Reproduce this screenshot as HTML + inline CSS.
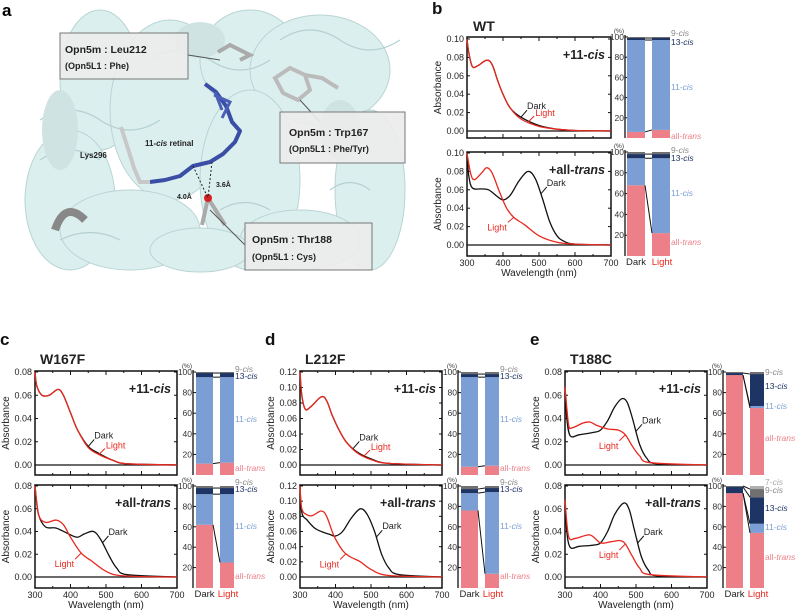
<!DOCTYPE html>
<html><head><meta charset="utf-8"><style>
html,body{margin:0;padding:0;background:#fff;}
svg{display:block;font-family:"Liberation Sans",Arial,sans-serif;}
</style></head><body>
<svg id="fig" width="798" height="613" viewBox="0 0 798 613" xmlns="http://www.w3.org/2000/svg">
<g id="panelA">
  <text x="2" y="16" font-size="17" font-weight="bold">a</text>
  <rect x="33" y="17" width="367" height="256" fill="#ffffff"/>
  <g fill="#dcefef" stroke="#b9d4d4" stroke-width="1">
    <ellipse cx="100" cy="80" rx="40" ry="70"/>
    <ellipse cx="70" cy="200" rx="45" ry="70"/>
    <ellipse cx="170" cy="110" rx="60" ry="90"/>
    <ellipse cx="250" cy="60" rx="50" ry="50"/>
    <ellipse cx="320" cy="70" rx="70" ry="55"/>
    <ellipse cx="370" cy="190" rx="35" ry="80"/>
    <ellipse cx="250" cy="180" rx="50" ry="90"/>
    <ellipse cx="130" cy="230" rx="70" ry="40"/>
    <ellipse cx="300" cy="240" rx="60" ry="30"/>
    <ellipse cx="200" cy="250" rx="50" ry="22"/>
  </g>
  <g fill="none" stroke="#b5d0d0" stroke-width="1.2">
    <path d="M40,120 q30,-20 60,0 q30,20 60,0"/>
    <path d="M40,160 q30,-20 60,0"/>
    <path d="M150,60 q30,-20 60,0 q30,20 60,0"/>
    <path d="M280,40 q30,-20 60,0 q30,20 60,0"/>
    <path d="M330,190 q20,-15 40,0"/>
    <path d="M220,210 q25,-15 50,0"/>
    <path d="M60,240 q30,-15 60,0"/>
  </g>
  <g fill="#cfe3e3">
    <ellipse cx="60" cy="130" rx="18" ry="40"/>
    <ellipse cx="200" cy="40" rx="25" ry="18"/>
    <ellipse cx="340" cy="130" rx="20" ry="30"/>
  </g>
  <path d="M55,230 q10,-30 30,-10" fill="none" stroke="#888" stroke-width="8"/>
  <path d="M150,182 L165,180 L180,176 L193,166 L210,162 L223,154 L235,142 L240,131 L232,122 L226,106 L216,92 L205,84" fill="none" stroke="#3a4ea6" stroke-width="4" stroke-linejoin="round"/>
  <path d="M215,92 L222,110 M214,95 L230,102 L222,118" fill="none" stroke="#4a5fb8" stroke-width="3"/>
  <path d="M150,182 L140,182 L134,168 L130,155 L121,127" fill="none" stroke="#c8c8c8" stroke-width="4"/>
  <path d="M218,52 L230,45 L250,55 L240,60" fill="none" stroke="#aaa" stroke-width="4"/>
  <path d="M275,78 L290,68 L305,75 L310,90 L298,100 L283,93 Z M305,75 L322,78 L338,88" fill="none" stroke="#bbb" stroke-width="4"/>
  <path d="M208,198 L202,225 M208,198 L225,225" fill="none" stroke="#aaa" stroke-width="4"/>
  <circle cx="208" cy="198" r="4" fill="#d62020"/>
  <line x1="193" y1="166" x2="208" y2="198" stroke="#222" stroke-dasharray="2,2"/>
  <line x1="212" y1="162" x2="208" y2="198" stroke="#222" stroke-dasharray="2,2"/>
  <line x1="188" y1="55" x2="220" y2="60" stroke="#555"/>
  <line x1="300" y1="100" x2="320" y2="122" stroke="#555"/>
  <line x1="210" y1="210" x2="245" y2="245" stroke="#555"/>
  <text x="145" y="146" font-size="8" font-weight="bold" fill="#222">11-<tspan font-style="italic">cis</tspan> retinal</text>
  <text x="80" y="158" font-size="8" font-weight="bold" fill="#222">Lys296</text>
  <text x="177" y="199" font-size="7" font-weight="bold" fill="#222">4.0Å</text>
  <text x="216" y="187" font-size="7" font-weight="bold" fill="#222">3.6Å</text>
  <g>
    <rect x="60" y="33" width="128" height="46" fill="#ececec" fill-opacity="0.92" stroke="#777"/>
    <text x="65" y="53" font-size="10.5" font-weight="bold" fill="#222">Opn5m : Leu212</text>
    <text x="65" y="69" font-size="9" font-weight="bold" fill="#222">(Opn5L1 : Phe)</text>
  </g>
  <g>
    <rect x="280" y="112" width="125" height="51" fill="#ececec" fill-opacity="0.92" stroke="#777"/>
    <text x="289" y="136" font-size="10.5" font-weight="bold" fill="#222">Opn5m : Trp167</text>
    <text x="289" y="152" font-size="9" font-weight="bold" fill="#222">(Opn5L1 : Phe/Tyr)</text>
  </g>
  <g>
    <rect x="245" y="223" width="127" height="47" fill="#ececec" fill-opacity="0.92" stroke="#777"/>
    <text x="252" y="243" font-size="10.5" font-weight="bold" fill="#222">Opn5m : Thr188</text>
    <text x="252" y="260" font-size="9" font-weight="bold" fill="#222">(Opn5L1 : Cys)</text>
  </g>
</g>
<g id="charts"></g>
</svg>
<script>
// ===== spectra data: wavelengths and absorbances =====
const bCisW = [300,305,315,330,355,370,385,400,420,450,500,550,600,700];
const bCisDark = [0.100,0.085,0.070,0.071,0.077,0.072,0.055,0.040,0.025,0.015,0.006,0.002,0.0005,0];
const bCisLight = [0.100,0.085,0.070,0.071,0.077,0.072,0.055,0.040,0.025,0.013,0.005,0.002,0.0005,0];
const bAtDarkW = [300,305,315,340,360,380,400,420,445,470,490,510,530,550,570,600,700];
const bAtDark = [0.100,0.075,0.062,0.061,0.060,0.054,0.049,0.054,0.070,0.080,0.072,0.050,0.025,0.010,0.004,0.001,0];
const bAtLightW = [300,310,320,340,355,370,390,410,430,460,500,550,600,700];
const bAtLight = [0.100,0.078,0.071,0.078,0.084,0.078,0.058,0.040,0.030,0.022,0.010,0.003,0.001,0];

const cCisW = [300,305,320,340,365,380,400,420,450,480,520,560,700];
const cCisDark = [0.080,0.068,0.060,0.060,0.065,0.060,0.045,0.030,0.016,0.010,0.004,0.001,0];
const cCisLight = [0.080,0.068,0.060,0.060,0.065,0.060,0.045,0.030,0.015,0.009,0.004,0.001,0];
const cAtDarkW = [300,310,330,360,400,420,440,465,485,510,530,560,700];
const cAtDark = [0.080,0.055,0.044,0.043,0.037,0.035,0.038,0.040,0.033,0.018,0.008,0.002,0];
const cAtLightW = [300,310,330,360,380,400,430,460,500,550,700];
const cAtLight = [0.080,0.055,0.048,0.050,0.046,0.035,0.021,0.014,0.005,0.001,0];

const dCisW = [300,305,315,330,360,375,390,410,430,460,500,550,700];
const dCisDark = [0.120,0.090,0.072,0.075,0.088,0.083,0.065,0.045,0.030,0.017,0.008,0.002,0];
const dCisLight = [0.120,0.090,0.072,0.075,0.088,0.083,0.065,0.045,0.030,0.016,0.007,0.002,0];
const dAtDarkW = [300,305,320,340,360,385,400,420,445,470,490,510,530,550,580,700];
const dAtDark = [0.120,0.085,0.075,0.065,0.060,0.056,0.054,0.060,0.078,0.090,0.082,0.060,0.030,0.012,0.003,0];
const dAtLightW = [300,305,320,335,360,375,395,420,440,470,500,550,700];
const dAtLight = [0.120,0.090,0.082,0.081,0.087,0.080,0.055,0.035,0.027,0.020,0.010,0.002,0];

const eCisDarkW = [300,305,315,340,380,400,420,440,460,475,490,510,530,560,700];
const eCisDark = [0.067,0.040,0.025,0.026,0.028,0.030,0.038,0.050,0.057,0.054,0.040,0.018,0.006,0.001,0];
const eCisLightW = [300,310,320,350,370,390,420,450,470,490,510,540,700];
const eCisLight = [0.067,0.035,0.032,0.036,0.037,0.034,0.031,0.030,0.026,0.016,0.008,0.002,0];
const eAtDarkW = [300,305,315,340,380,400,420,440,465,480,495,515,535,560,700];
const eAtDark = [0.068,0.040,0.026,0.027,0.028,0.030,0.040,0.055,0.065,0.060,0.042,0.018,0.006,0.001,0];
const eAtLightW = [300,310,330,370,400,430,455,470,490,510,540,700];
const eAtLight = [0.068,0.036,0.034,0.037,0.030,0.031,0.032,0.029,0.018,0.008,0.002,0];

// ===== isomer composition (%): all-trans, 11-cis, 13-cis, 9-cis, 7-cis =====
const isomers = ["all-trans","11-cis","13-cis","9-cis","7-cis"];
const bCisDarkPct = [6,91,2,1,0];   const bCisLightPct = [8,89,2,1,0];
const bAtDarkPct = [68,26,4,2,0];   const bAtLightPct = [22,72,4,2,0];
const cCisDarkPct = [11,84,4,1,0];  const cCisLightPct = [12,83,4,1,0];
const cAtDarkPct = [62,30,6,2,0];   const cAtLightPct = [25,67,6,2,0];
const dCisDarkPct = [8,87,3,2,0];   const dCisLightPct = [9,86,3,2,0];
const dAtDarkPct = [76,17,4,3,0];   const dAtLightPct = [14,80,4,2,0];
const eCisDarkPct = [97,0,2,1,0];   const eCisLightPct = [65,2,31,2,0];
const eAtDarkPct = [93,0,6,1,0];    const eAtLightPct = [54,9,26,8,3];

const tickLabelsX = [300,400,500,600,700];
const pctTicks = [20,40,60,80,100];

const NS = "http://www.w3.org/2000/svg";
const root = document.getElementById("charts");
function mk(tag, attrs, parent, text){
  const e = document.createElementNS(NS, tag);
  for (const k in attrs) e.setAttribute(k, attrs[k]);
  if (text !== undefined) e.textContent = text;
  (parent||root).appendChild(e);
  return e;
}
function smoothPath(pts){
  let d = "M" + pts[0][0].toFixed(1) + "," + pts[0][1].toFixed(1);
  for (let i=0;i<pts.length-1;i++){
    const p0=pts[Math.max(0,i-1)], p1=pts[i], p2=pts[i+1], p3=pts[Math.min(pts.length-1,i+2)];
    const c1x=p1[0]+(p2[0]-p0[0])/6, c1y=p1[1]+(p2[1]-p0[1])/6;
    const c2x=p2[0]-(p3[0]-p1[0])/6, c2y=p2[1]-(p3[1]-p1[1])/6;
    d += " C"+c1x.toFixed(1)+","+c1y.toFixed(1)+" "+c2x.toFixed(1)+","+c2y.toFixed(1)+" "+p2[0].toFixed(1)+","+p2[1].toFixed(1);
  }
  return d;
}
function interp(ws, vs, w){
  for (let i=0;i<ws.length-1;i++) if (w>=ws[i] && w<=ws[i+1]) return vs[i]+(vs[i+1]-vs[i])*(w-ws[i])/(ws[i+1]-ws[i]);
  return vs[vs.length-1];
}

function spectrum(p){
  const g = mk("g", {});
  
  
  const xs = w => p.x0 + (w-300)/400*(p.x1-p.x0);
  const ys = a => p.yZero - a/p.ymax*(p.yZero-p.yTop);
  const fr = mk("rect", {x:p.x0, y:p.ft, width:p.x1-p.x0, height:p.fb-p.ft, fill:"none", stroke:"#111", "stroke-width":1.5}, g);
  
  
  mk("line", {x1:p.x0, x2:p.x1, y1:ys(0), y2:ys(0), stroke:"#111", "stroke-width":1.3}, g);
  const n = Math.round(p.ymax/0.02);
  for (let i=0;i<=n;i++){
    const v=i*0.02, y=ys(v);
    mk("line", {x1:p.x0, x2:p.x0+3, y1:y, y2:y, stroke:"#111"}, g);
    mk("line", {x1:p.x1, x2:p.x1-3, y1:y, y2:y, stroke:"#111"}, g);
    const t = mk("text", {x:p.x0-3, y:y+3, "font-size":9, "text-anchor":"end", fill:"#222"}, g, v.toFixed(2));
    
    
  }
  for (const w of [300,350,400,450,500,550,600,650,700]){
    const len = w%100===0 ? 4 : 2;
    mk("line", {x1:xs(w), x2:xs(w), y1:p.fb, y2:p.fb-len, stroke:"#111"}, g);
    mk("line", {x1:xs(w), x2:xs(w), y1:p.ft, y2:p.ft+len, stroke:"#111"}, g);
  }
  if (p.xlabels){
    for (const w of tickLabelsX){
      const t = mk("text", {x:xs(w), y:p.fb+10, "font-size":9, "text-anchor":"middle", fill:"#222"}, g, String(w));
      
      
    }
    const xt = mk("text", {x:(p.x0+p.x1)/2, y:p.fb+20, "font-size":10, "text-anchor":"middle", fill:"#222"}, g, "Wavelength (nm)");
    
    
  }
  const yt = mk("text", {transform:"translate("+(p.x0-26)+","+((p.ft+p.fb)/2)+") rotate(-90)", "font-size":10, "text-anchor":"middle", fill:"#222"}, g, "Absorbance");
  
  
  const dk = mk("path", {d:smoothPath(p.dW.map((w,i)=>[xs(w), ys(p.dA[i])])), fill:"none", stroke:"#111", "stroke-width":1.3}, g);
  
  
  const lt = mk("path", {d:smoothPath(p.lW.map((w,i)=>[xs(w), ys(p.lA[i])])), fill:"none", stroke:"#e8281e", "stroke-width":1.3}, g);
  
  
  const cl = mk("text", {x:p.x1-6, y:p.ft+22, "font-size":12.5, "font-weight":"bold", "text-anchor":"end", fill:"#222"}, g);
  
  
  if (p.cis){ cl.appendChild(document.createTextNode("+11-")); mk("tspan",{"font-style":"italic"},cl,"cis"); }
  else { cl.appendChild(document.createTextNode("+all-")); mk("tspan",{"font-style":"italic"},cl,"trans"); }
  const ad = p.darkLab, al = p.lightLab;
  const dx = xs(ad[0]), dy = ys(interp(p.dW,p.dA,ad[0]));
  mk("line", {x1:dx, y1:dy, x2:dx+6, y2:dy-7, stroke:"#111"}, g);
  const td = mk("text", {x:dx+6, y:dy-8, "font-size":9, fill:"#222"}, g, "Dark");
  
  
  const lx = xs(al[0]), ly = ys(interp(p.lW,p.lA,al[0]));
  mk("line", {x1:lx, y1:ly, x2:lx+al[1], y2:ly+al[2], stroke:"#e8281e"}, g);
  const tl = mk("text", {x:lx+al[1]+(al[1]<0?-1:1), y:ly+al[2]+(al[2]>0?8:0), "font-size":9, fill:"#e8281e", "text-anchor":al[1]<0?"end":"start"}, g, "Light");
  
  
}

const isoColors = ["#ec7f88","#7b9fd5","#1e3464","#707070","#b0b0b0"];
const labColors = ["#ec7f88","#7b9fd5","#1e3464","#888","#aaa"];
function bars(p){
  const g = mk("g", {});
  
  
  const yv = v => p.base - v/100*(p.base-p.top);
  mk("line", {x1:p.ax, x2:p.ax, y1:p.top-2, y2:p.base, stroke:"#111", "stroke-width":1.3}, g);
  for (const v of pctTicks){
    mk("line", {x1:p.ax, x2:p.ax+3, y1:yv(v), y2:yv(v), stroke:"#111"}, g);
    const t = mk("text", {x:p.ax-1, y:yv(v)+3, "font-size":8.5, "text-anchor":"end", fill:"#333"}, g, String(v));
    
    
  }
  mk("text", {x:p.ax-1, y:p.top-4, "font-size":6.5, "text-anchor":"end", fill:"#333"}, g, "(%)");
  const cols = [[p.dx0,p.dx1,p.dark],[p.lx0,p.lx1,p.light]];
  const cum = arr => { const c=[0]; arr.forEach(v=>c.push(c[c.length-1]+v)); return c; };
  cols.forEach((c,ci)=>{
    const cs = cum(c[2]);
    c[2].forEach((v,i)=>{
      if (v<=0) return;
      const r = mk("rect", {x:c[0], y:yv(cs[i+1]), width:c[1]-c[0], height:yv(cs[i])-yv(cs[i+1]), fill:isoColors[i]}, g);
      
      
    });
  });
  const dc = cum(p.dark), lc = cum(p.light);
  for (let i=1;i<dc.length-1;i++){
    if (p.dark[i]===0 && p.light[i]===0) continue;
    mk("line", {x1:p.dx1, y1:yv(dc[i]), x2:p.lx0, y2:yv(lc[i]), stroke:"#111", "stroke-width":1}, g);
  }
  p.labels.forEach(L=>{
    const t = mk("text", {x:p.lx1+1, y:L[1], "font-size":8.5, fill:labColors[L[0]]}, g);
    
    
    const nm = isomers[L[0]].split("-");
    t.appendChild(document.createTextNode(nm[0]+"-"));
    mk("tspan", {"font-style":"italic"}, t, nm[1]);
  });
  if (p.xcat){
    const a = mk("text", {x:(p.dx0+p.dx1)/2, y:p.base+9, "font-size":9.5, "text-anchor":"middle", fill:"#222"}, g, "Dark");
    
    
    const b = mk("text", {x:(p.lx0+p.lx1)/2+1, y:p.base+9, "font-size":9.5, "text-anchor":"middle", fill:"#e8281e"}, g, "Light");
    
    
  }
}

function heading(x, y, letter, title, tx, ty){
  const a = mk("text", {x:x, y:y, "font-size":17, "font-weight":"bold", fill:"#111"}, root, letter);
  
  
  const b = mk("text", {x:tx, y:ty, "font-size":14, "font-weight":"bold", fill:"#222"}, root, title);
  
  
}

heading(432, 14, "b", "WT", 473, 31);
spectrum({name:"wt-11cis-spectra", x0:467,x1:611, ft:37,fb:138, yTop:39,yZero:131, ymax:0.10, cis:true, xlabels:false,
  dW:bCisW,dA:bCisDark,lW:bCisW,lA:bCisLight, darkLab:[450,0,0], lightLab:[470,6,-6]});
spectrum({name:"wt-alltrans-spectra", x0:467,x1:611, ft:152,fb:256, yTop:153,yZero:245, ymax:0.10, cis:false, xlabels:true,
  dW:bAtDarkW,dA:bAtDark,lW:bAtLightW,lA:bAtLight, darkLab:[505,0,0], lightLab:[430,-6,5]});
bars({name:"wt-11cis-isomers", ax:625, dx0:627,dx1:645, lx0:652,lx1:670, top:37, base:138, dark:bCisDarkPct, light:bCisLightPct,
  labels:[[3,36],[2,45],[1,90],[0,139]], xcat:false});
bars({name:"wt-alltrans-isomers", ax:625, dx0:627,dx1:645, lx0:652,lx1:670, top:152, base:256, dark:bAtDarkPct, light:bAtLightPct,
  labels:[[3,153],[2,161],[1,196],[0,245]], xcat:true});

const off = {c:0, d:265, e:530};
heading(0, 345, "c", "W167F", 40, 364);
heading(265, 345, "d", "L212F", 305, 364);
heading(530, 345, "e", "T188C", 570, 364);
[["c",0.08,cCisW,cCisDark,cCisW,cCisLight,cAtDarkW,cAtDark,cAtLightW,cAtLight,cCisDarkPct,cCisLightPct,cAtDarkPct,cAtLightPct],
 ["d",0.12,dCisW,dCisDark,dCisW,dCisLight,dAtDarkW,dAtDark,dAtLightW,dAtLight,dCisDarkPct,dCisLightPct,dAtDarkPct,dAtLightPct],
 ["e",0.08,eCisDarkW,eCisDark,eCisLightW,eCisLight,eAtDarkW,eAtDark,eAtLightW,eAtLight,eCisDarkPct,eCisLightPct,eAtDarkPct,eAtLightPct]
].forEach(r=>{
  const o = off[r[0]];
  const isE = r[0]==="e", isD = r[0]==="d";
  spectrum({name:r[0]+"-11cis-spectra", x0:35+o,x1:177+o, ft:371,fb:475, yTop:372,yZero:465, ymax:r[1], cis:true, xlabels:false,
    dW:r[2],dA:r[3],lW:r[4],lA:r[5], darkLab:isE?[500,0,0]:[450,0,0], lightLab:isE?[470,-6,6]:[480,6,-6]});
  spectrum({name:r[0]+"-alltrans-spectra", x0:35+o,x1:177+o, ft:485,fb:588, yTop:486,yZero:577, ymax:r[1], cis:false, xlabels:true,
    dW:r[6],dA:r[7],lW:r[8],lA:r[9], darkLab:isE?[505,0,0]:(isD?[515,0,0]:[490,0,0]), lightLab:isE?[470,-6,6]:[430,-6,6]});
  const bx = {ax:193+o, dx0:196+o,dx1:213+o, lx0:220+o,lx1:234+o};
  bars(Object.assign({name:r[0]+"-11cis-isomers", top:372, base:475, dark:r[10], light:r[11], xcat:false,
    labels: isE ? [[3,375],[2,389],[1,409],[0,441]] : [[3,372],[2,379],[1,422],[0,471]]}, bx));
  bars(Object.assign({name:r[0]+"-alltrans-isomers", top:486, base:588, dark:r[12], light:r[13], xcat:true,
    labels: isE ? [[4,485],[3,493],[2,511],[1,530],[0,560]] : [[3,485],[2,492],[1,529],[0,579]]}, bx));
});
</script>
</body></html>
